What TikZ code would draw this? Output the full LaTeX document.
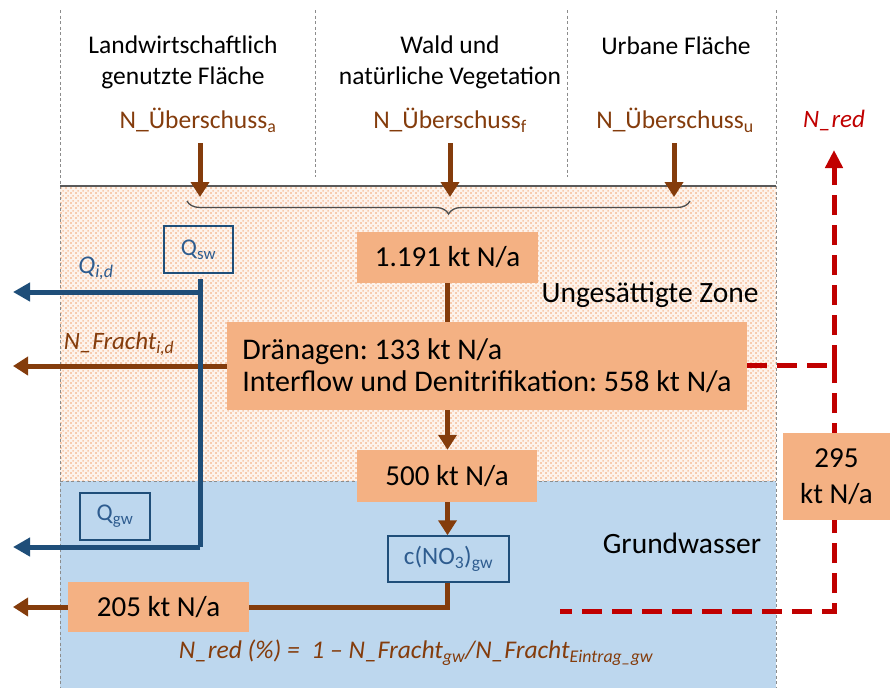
\documentclass[tikz,border=0pt]{standalone}
\usepackage{fontspec}
\setmainfont{Carlito}
\frenchspacing
\usetikzlibrary{arrows.meta,decorations.pathreplacing,patterns}
\definecolor{brn}{HTML}{843C0C}
\definecolor{bluel}{HTML}{1F4E79}
\definecolor{bluet}{HTML}{2E5C8F}
\definecolor{redd}{HTML}{C00000}
\definecolor{boxo}{HTML}{F4B183}
\definecolor{gwfill}{HTML}{BDD7EE}
\definecolor{uzfill}{HTML}{FDF3EC}
\definecolor{uzdot}{HTML}{F7CBAE}
\definecolor{grayd}{HTML}{8C8C8C}
\pgfdeclarepatternformonly{uzdots}{\pgfpointorigin}{\pgfpoint{5pt}{5pt}}{\pgfpoint{5pt}{5pt}}{%
  \pgfpathrectangle{\pgfpoint{0.2pt}{0.2pt}}{\pgfpoint{1.9pt}{1.9pt}}%
  \pgfpathrectangle{\pgfpoint{2.7pt}{2.7pt}}{\pgfpoint{1.9pt}{1.9pt}}%
  \pgfusepath{fill}}
\pgfdeclarelayer{back}
\pgfdeclarelayer{mid}
\pgfsetlayers{back,mid,main}
\tikzset{
  fs/.style 2 args={font=\fontsize{#1}{#2}\selectfont},
  obox/.style={fill=boxo, inner sep=0pt, fs={29}{33}},
  qbox/.style={draw=bluel, line width=1.5pt, inner sep=0pt, text=bluet, fs={24}{28}},
  toplbl/.style={align=center, fs={25.5}{31}},
  brlbl/.style={text=brn, fs={25.5}{30}},
  brarrow/.style={draw=brn, line width=5pt, -{Triangle[length=15pt,width=18pt]}},
  brline/.style={draw=brn, line width=5pt},
  blarrow/.style={draw=bluel, line width=5pt, -{Triangle[length=17pt,width=18pt]}},
  blline/.style={draw=bluel, line width=5pt},
  reddash/.style={draw=redd, line width=5pt, dash pattern=on 20pt off 10pt},
  grdash/.style={draw=grayd, line width=1pt, dash pattern=on 3pt off 2.5pt},
}
\begin{document}
\begin{tikzpicture}[x=1pt,y=-1pt]
\useasboundingbox (0,0) rectangle (890,688);
% zones
\begin{pgfonlayer}{back}
\fill[uzfill] (60,186) rectangle (776,481);
\fill[pattern=uzdots, pattern color=uzdot] (60,186) rectangle (776,481);
\fill[gwfill] (60,481) rectangle (776,688);
\draw[grdash] (60,10) -- (60,688);
\draw[grdash] (776,10) -- (776,688);
\draw[grdash] (315,10) -- (315,177);
\draw[grdash] (567,10) -- (567,177);
\draw[grdash] (60,481) -- (776,481);
\draw[draw=black!65, line width=1.5pt] (60,186) -- (776,186);
\end{pgfonlayer}

% top labels
\node[toplbl] (lw) at (183,62) {Landwirtschaftlich\\genutzte Fläche};
\node[toplbl] (wald) at (450,62) {Wald und\\natürliche Vegetation};
\node[toplbl, anchor=center] (urb) at (676,46) {Urbane Fläche};
\node[brlbl] (na) at (198,120) {N\_Überschuss\textsubscript{a}};
\node[brlbl] (nf) at (450,120) {N\_Überschuss\textsubscript{f}};
\node[brlbl] (nu) at (675,120) {N\_Überschuss\textsubscript{u}};
\node[text=redd, fs={25}{30}] (nred) at (834,120) {\textit{N\_red}};

% boxes
\node[obox, minimum width=181pt, minimum height=51pt] (b1191) at (447.5,257.5) {1.191 kt N/a};
\node[obox, minimum width=520pt, minimum height=88pt, align=left, fs={30}{32}] (drain) at (487,366)
  {Dränagen: 133 kt N/a\\Interflow und Denitrifikation: 558 kt N/a};
\node[obox, minimum width=180pt, minimum height=52pt] (b500) at (447,476) {500 kt N/a};
\node[obox, minimum width=181pt, minimum height=50pt] (b205) at (158.5,607) {205 kt N/a};
\node[obox, minimum width=107pt, minimum height=87pt, align=center, fs={29}{36}] (b295) at (836.5,476.5) {295\\kt N/a};
\node[qbox, minimum width=121pt, minimum height=46pt, fs={25}{28}] (cno) at (448.5,559) {c(NO\textsubscript{3})\textsubscript{gw}};
\node[qbox, minimum width=69pt, minimum height=47pt] (qsw) at (198.5,249.5) {Q\textsubscript{sw}};
\node[qbox, minimum width=70pt, minimum height=47pt] (qgw) at (115,516.5) {Q\textsubscript{gw}};

% text labels
\node[fs={29.5}{34}] (uz) at (650,295) {Ungesättigte Zone};
\node[fs={29.5}{34}] (gw) at (682,543) {Grundwasser};
\node[text=bluet, fs={25.5}{30}] (qid) at (96,268) {\textit{Q\textsubscript{i,d}}};
\node[text=brn, fs={25}{30}] (nfid) at (119,344) {\textit{N\_Fracht\textsubscript{i,d}}};
\node[text=brn, fs={25.5}{30}] (form) at (416,653) {\textit{N\_red (\%) =\ \ 1 – N\_Fracht\textsubscript{gw}/N\_Fracht\textsubscript{Eintrag\_gw}}};

% coordinates
\coordinate (ta) at (200,143); \coordinate (ha) at (200,197);
\coordinate (tf) at (450,143); \coordinate (hf) at (450,197);
\coordinate (tu) at (674,143); \coordinate (hu) at (674,197);
\coordinate (brL) at (187,201); \coordinate (brR) at (690,201);
\coordinate (lft1) at (13,292);
\coordinate (lft2) at (13,366);
\coordinate (lft3) at (13,547);
\coordinate (lft4) at (13,607);
\coordinate (qtop) at (200,279);
\coordinate (qbot) at (200,547);
\coordinate (qbr) at (200,292);
\coordinate (rc) at (834,365);
\coordinate (rtop) at (834,150);
\coordinate (rs) at (560,611);
\coordinate (rb) at (834,611);

\begin{pgfonlayer}{mid}
\draw[brarrow] (ta) -- (ha);
\draw[brarrow] (tf) -- (hf);
\draw[brarrow] (tu) -- (hu);
\draw[draw=black!70, line width=1.3pt, decorate, decoration={brace, amplitude=13pt, mirror, aspect=0.52}] (brL) -- (brR);
\draw[brline] (b1191.south) -- (drain.north -| b1191.south);
\draw[brarrow] (drain.south -| b1191.south) -- (b500.north -| b1191.south);
\draw[brarrow] (b500.south -| b1191.south) -- (cno.north -| b1191.south);
\draw[brline] (cno.south -| b1191.south) -- (b205.east -| b1191.south) -- (b205.east);
\draw[brarrow] (b205.west) -- (lft4);
\draw[brarrow] (drain.west) -- (lft2);
\draw[blline] (qtop) -- (qbot);
\draw[blarrow] (qbot) -- (lft3);
\draw[blarrow] (qbr) -- (lft1);
\draw[reddash] (drain.east |- rc) -- (rc);
\draw[reddash, dash phase=8pt] (rs) -- (rb) -- (rc);
\draw[reddash, -{Triangle[length=18pt,width=17pt]}] (rc) -- (rtop);
\end{pgfonlayer}
\end{tikzpicture}
\end{document}
